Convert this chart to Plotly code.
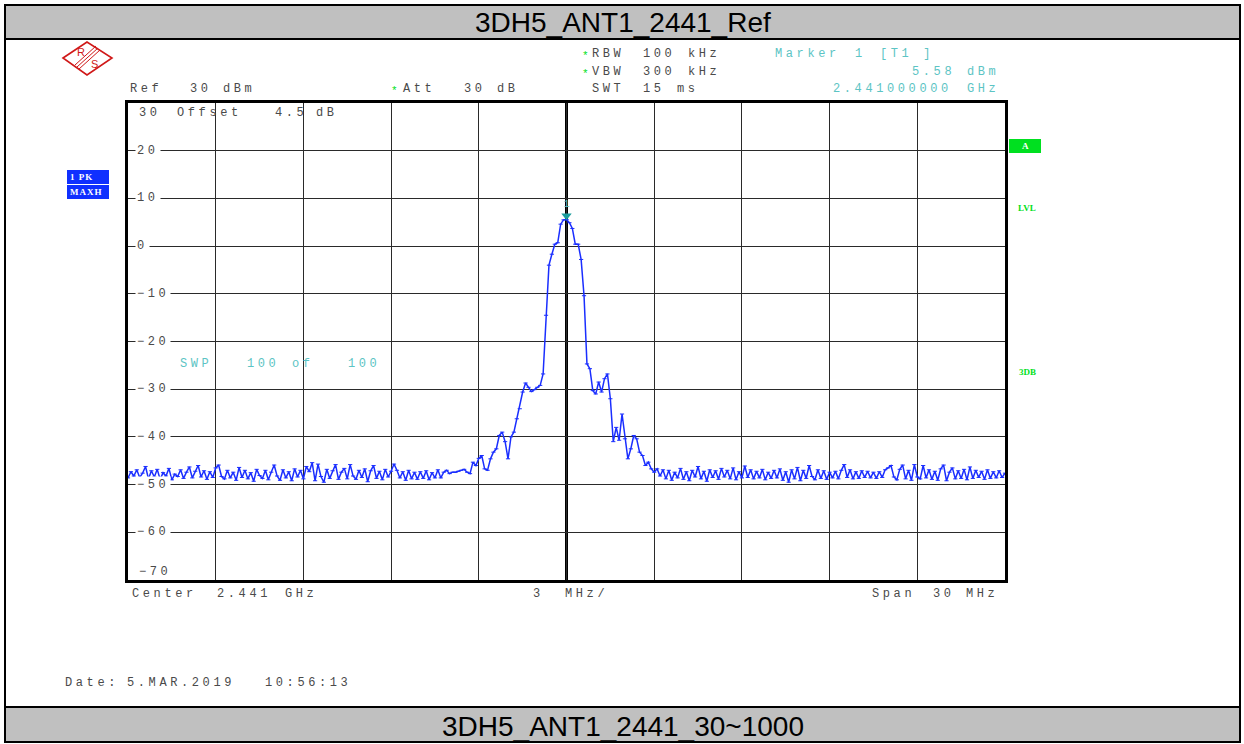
import numpy as np
import plotly.graph_objects as go

"""
R&S spectrum analyser screen shot: 3DH5, ANT1, 2441 MHz reference level plot
"""

W, H = 1244, 744

# sweep settings (MHz)
f_center = 2441.0
f_span = 30.0
f_div = 3.0

# trace levels in dBm, 301 sweep points
level_left = [
    -48.6, -47.3, -48.2, -46.9, -48.5, -47.6, -46.2, -48.8, -47.1, -48.4,
    -46.8, -48.9, -47.5, -48.2, -46.6, -49.0, -47.8, -48.3, -46.9, -48.7,
    -47.4, -46.3, -48.6, -47.2, -46.0, -48.4, -47.1, -48.9, -47.3, -48.5,
    -46.5, -45.9, -48.3, -48.8, -47.0, -48.6, -47.4, -49.1, -46.4, -48.5,
    -47.0, -48.8, -47.5, -49.3, -46.8, -48.1, -48.7, -47.0, -49.0, -47.4,
    -45.9, -48.2, -49.1, -46.9, -48.6, -47.3, -49.2, -46.7, -48.4, -47.0,
    -48.8, -46.2, -47.3, -45.4, -49.2, -45.7, -48.3, -49.5, -46.8, -48.7,
    -47.1, -45.8, -48.9, -47.4, -46.6, -48.8, -45.8, -48.2, -48.9, -47.0,
    -48.5, -46.7, -49.4, -47.1, -46.0, -48.7, -47.2, -49.0, -46.8, -48.4,
    -47.2, -45.7, -47.0, -48.6, -47.3, -49.1, -47.0, -48.8, -47.4, -48.9,
    -47.3, -48.7, -47.1, -49.0, -47.5, -48.6, -46.9, -48.6, -47.4, -47.0,
]
level_peak = [
    -47.7, -47.4, -47.4, -47.2, -47.0, -46.8, -47.4, -47.7, -45.3, -46.0,
    -44.5, -43.9, -46.7, -47.0, -44.6, -43.2, -42.5, -39.7, -39.0, -41.0,
    -44.6, -40.0, -39.0, -36.2, -34.1, -30.6, -28.7, -29.6, -30.5, -30.1,
    -29.6, -29.2, -26.8, -14.5, -4.0, -1.7, 0.4, 0.7, 4.6, 5.5,
    5.58, 4.9, 3.7, 0.4, 0.4, -2.8, -10.4, -24.7, -25.7, -30.3,
    -31.0, -28.5, -30.6, -27.8, -26.8, -32.0, -41.0, -38.0, -40.7, -35.2,
    -40.4, -44.6, -42.5, -39.7, -40.4, -43.2, -43.9, -46.0, -45.3, -46.7,
    -47.4, -46.7,
]
level_right = [
    -48.2, -46.9, -48.8, -47.0, -49.1, -47.4, -48.6, -46.6, -48.9, -47.3,
    -49.2, -47.0, -48.4, -46.2, -48.8, -47.2, -49.3, -46.9, -48.5, -47.1,
    -48.9, -46.6, -48.4, -47.0, -48.8, -46.5, -49.0, -47.3, -48.6, -46.1,
    -48.5, -46.9, -48.8, -47.2, -48.6, -46.8, -49.0, -47.4, -48.7, -47.0,
    -48.6, -46.7, -49.1, -47.3, -49.5, -46.9, -48.8, -46.4, -49.2, -47.0,
    -48.7, -46.0, -48.3, -49.0, -46.9, -48.7, -47.1, -48.9, -47.4, -48.6,
    -47.2, -48.8, -47.0, -45.8, -48.5, -46.9, -48.8, -47.3, -48.7, -47.1,
    -48.5, -47.2, -48.6, -47.4, -48.7, -47.3, -48.5, -46.9, -46.5, -46.0,
    -48.4, -49.0, -46.8, -45.9, -48.8, -47.0, -49.1, -45.8, -48.4, -48.8,
    -46.0, -48.6, -46.9, -48.9, -47.2, -49.1, -46.7, -45.9, -49.2, -47.4,
    -46.5, -48.8, -47.1, -48.7, -46.8, -49.0, -46.3, -48.7, -47.0, -48.5,
    -47.2, -48.9, -46.9, -48.7, -47.3, -48.6, -47.1, -48.5, -47.6,
]
levels = level_left + level_peak + level_right

marker_freq = 2441.0
marker_level = 5.58

y_labels = [20, 10, 0, -10, -20, -30, -40, -50, -60]

f_start = f_center - f_span / 2
f_stop = f_center + f_span / 2
freq = np.linspace(f_start, f_stop, len(levels))

GREY = "#4a4a4a"
TEAL = "#5cc4c4"
GREEN = "#00e020"
BLUE = "#1030ff"
RED = "#d01818"
TRACE = "#1a2eff"
MONO = "Liberation Mono"
SP = 3.6   # letter spacing of the analyser font


def px(x):
    return x / W


def py(y):
    return 1 - y / H


fig = go.Figure()

fig.add_trace(go.Scatter(
    x=freq, y=levels, mode="lines+markers",
    line=dict(color=TRACE, width=1.5),
    marker=dict(symbol="line-ew", size=3, line=dict(color=TRACE, width=1)),
    hoverinfo="skip", showlegend=False,
))

# marker 1 sits just above the trace point
fig.add_trace(go.Scatter(
    x=[marker_freq], y=[marker_level + 0.8], mode="markers+text",
    marker=dict(symbol="triangle-down", size=9, color="#1a9c9c"),
    text=["1"], textposition="top center",
    textfont=dict(family=MONO, size=10, color=TEAL),
    hoverinfo="skip", showlegend=False,
))

fig.add_vline(x=f_center, line_width=3, line_color="black", layer="below")

fig.update_layout(
    width=W, height=H,
    margin=dict(l=0, r=0, t=0, b=0),
    paper_bgcolor="white", plot_bgcolor="white",
    showlegend=False,
    xaxis=dict(
        domain=[px(128), px(1005)], range=[f_start, f_stop],
        tick0=f_start, dtick=f_div, showticklabels=False, ticks="",
        showgrid=True, gridcolor="#2a2a2a", gridwidth=1, zeroline=False,
        showline=True, mirror=True, linecolor="black", linewidth=3,
    ),
    yaxis=dict(
        domain=[py(580), py(103)], range=[-70, 30],
        dtick=10, showticklabels=False, ticks="",
        showgrid=True, gridcolor="#2a2a2a", gridwidth=1, zeroline=False,
        showline=True, mirror=True, linecolor="black", linewidth=3,
    ),
)


def note(x, y, s, font, xanchor="center", **kw):
    fig.add_annotation(x=px(x), y=py(y), xref="paper", yref="paper", text=s,
                       showarrow=False, xanchor=xanchor, yanchor="middle",
                       font=font, **kw)


def word(x, y, s, color=GREY, size=12, sp=SP):
    note(x - 2, y, '<span style="letter-spacing:%.1fpx">%s</span>' % (sp, s),
         dict(family=MONO, size=size, color=color), xanchor="left")


def star(x, y):
    note(x, y + 2, "*", dict(family=MONO, size=11, color=GREEN))


# frame, header and footer bars
fig.add_shape(type="rect", xref="paper", yref="paper",
              x0=px(5), x1=px(1240), y0=py(5), y1=py(39),
              fillcolor="#c0c0c0", line=dict(color="black", width=2))
fig.add_shape(type="rect", xref="paper", yref="paper",
              x0=px(5), x1=px(1240), y0=py(707), y1=py(742),
              fillcolor="#c0c0c0", line=dict(color="black", width=2))
fig.add_shape(type="rect", xref="paper", yref="paper",
              x0=px(5), x1=px(1240), y0=py(5), y1=py(742),
              line=dict(color="black", width=2))
note(623, 23, "3DH5_ANT1_2441_Ref",
     dict(family="Liberation Sans", size=28, color="black"))
note(623, 726, "3DH5_ANT1_2441_30~1000",
     dict(family="Liberation Sans", size=28, color="black"))

# R&S logo
diamond = "M %f,%f L %f,%f L %f,%f L %f,%f Z" % (
    px(63), py(58), px(87), py(42), px(112), py(58), px(87), py(75))
fig.add_shape(type="path", xref="paper", yref="paper", path=diamond,
              line=dict(color=RED, width=1.6))
for d in [-2, 0, 2]:
    fig.add_shape(type="line", xref="paper", yref="paper",
                  x0=px(77 + d), y0=py(67 + d), x1=px(98 + d), y1=py(48 + d),
                  line=dict(color=RED, width=1))
note(81, 52, "R", dict(family="Liberation Sans", size=11, color=RED))
note(94, 64, "S", dict(family="Liberation Sans", size=11, color=RED))

# settings block
star(585, 54)
word(592, 54, "RBW")
word(643, 54, "100")
word(688, 54, "kHz")
star(585, 72)
word(592, 72, "VBW")
word(643, 72, "300")
word(688, 72, "kHz")
word(130, 89, "Ref")
word(190, 89, "30")
word(223, 89, "dBm")
star(394, 89)
word(403, 89, "Att")
word(464, 89, "30")
word(497, 89, "dB")
word(592, 89, "SWT")
word(643, 89, "15")
word(677, 89, "ms")

word(775, 54, "Marker", TEAL)
word(855, 54, "1", TEAL)
word(880, 54, "[T1 ]", TEAL)
word(912, 72, "5.58", TEAL)
word(967, 72, "dBm", TEAL)
word(833, 89, "2.441000000", TEAL)
word(967, 89, "GHz", TEAL)

word(177, 113, "Offset")
word(275, 113, "4.5")
word(316, 113, "dB")
word(180, 364, "SWP", TEAL)
word(247, 364, "100", TEAL)
word(292, 364, "of", TEAL)
word(348, 364, "100", TEAL)

word(132, 594, "Center")
word(217, 594, "2.441")
word(285, 594, "GHz")
word(533, 594, "3")
word(565, 594, "MHz/")
word(872, 594, "Span")
word(933, 594, "30")
word(966, 594, "MHz")
word(65, 683, "Date:")
word(127, 683, "5.MAR.2019")
word(265, 683, "10:56:13")

# y level labels inside the grid
lab_font = dict(family=MONO, size=12, color=GREY)
fig.add_annotation(x=px(137), y=30, xref="paper", yref="y", yshift=-10,
                   text='<span style="letter-spacing:%.1fpx">30</span>' % SP,
                   showarrow=False, xanchor="left", yanchor="middle",
                   font=lab_font)
fig.add_annotation(x=px(137), y=-70, xref="paper", yref="y", yshift=8,
                   text='<span style="letter-spacing:%.1fpx">\u221270</span>' % SP,
                   showarrow=False, xanchor="left", yanchor="middle",
                   font=lab_font)
for v in y_labels:
    lab = str(v).replace("-", "\u2212")
    fig.add_annotation(x=px(135), y=v, xref="paper", yref="y",
                       text='<span style="letter-spacing:%.1fpx">%s</span>' % (SP, lab),
                       showarrow=False, xanchor="left", yanchor="middle",
                       bgcolor="white", borderpad=1, font=lab_font)

# trace info boxes
for y0, y1, s in [(170, 184, "1 PK"), (185, 199, "MAXH")]:
    fig.add_shape(type="rect", xref="paper", yref="paper",
                  x0=px(67), x1=px(109), y0=py(y0), y1=py(y1),
                  fillcolor=BLUE, line=dict(width=0))
    note(68, (y0 + y1) / 2, '<b><span style="letter-spacing:1px">%s</span></b>' % s,
         dict(family="Liberation Serif", size=9, color="white"), xanchor="left")

fig.add_shape(type="rect", xref="paper", yref="paper",
              x0=px(1009), x1=px(1041), y0=py(139), y1=py(153),
              fillcolor=GREEN, line=dict(width=0))
note(1025, 146, "<b>A</b>", dict(family="Liberation Serif", size=9, color="white"))
for y, s in [(208, "LVL"), (372, "3DB")]:
    note(1027, y, "<b>%s</b>" % s,
         dict(family="Liberation Serif", size=9, color=GREEN))

fig.write_html("out.html",
               config={"displayModeBar": False},
               post_script="document.body.style.margin='0';"
                           "document.body.style.overflow='hidden';")
